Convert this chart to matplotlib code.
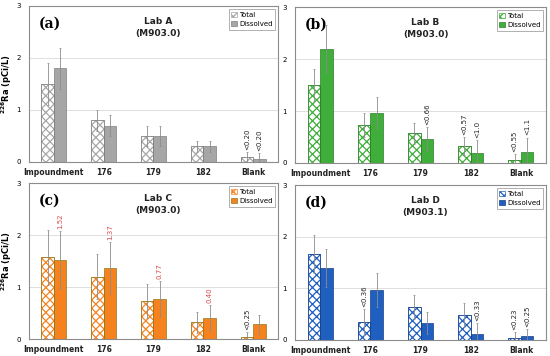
import matplotlib.pyplot as plt
import numpy as np

# sampling sites
sites = ['Impoundment', '176', '179', '182', 'Blank']

# Lab A (M903.0)
a_total = [1.5, 0.8, 0.5, 0.3, 0.1]
a_total_err = [0.4, 0.2, 0.2, 0.1, 0.1]
a_diss = [1.8, 0.7, 0.5, 0.3, 0.05]
a_diss_err = [0.4, 0.2, 0.2, 0.1, 0.12]

# Lab B (M903.0)
b_total = [1.5, 0.73, 0.57, 0.33, 0.05]
b_total_err = [0.3, 0.23, 0.2, 0.17, 0.12]
b_diss = [2.2, 0.97, 0.46, 0.2, 0.22]
b_diss_err = [0.45, 0.3, 0.23, 0.25, 0.27]

# Lab C (M903.0)
c_total = [1.57, 1.2, 0.73, 0.32, 0.03]
c_total_err = [0.53, 0.43, 0.33, 0.2, 0.1]
c_diss = [1.52, 1.37, 0.77, 0.40, 0.28]
c_diss_err = [0.55, 0.5, 0.35, 0.25, 0.18]

# Lab D (M903.1)
d_total = [1.66, 0.35, 0.64, 0.48, 0.04]
d_total_err = [0.37, 0.25, 0.23, 0.23, 0.12]
d_diss = [1.40, 0.97, 0.33, 0.12, 0.07]
d_diss_err = [0.37, 0.33, 0.22, 0.2, 0.14]

# detection-limit / value notes: (site index, series, text, red?)
a_notes = [(4, 't', '<0.20', False), (4, 'd', '<0.20', False)]
b_notes = [(2, 'd', '<0.66', False), (3, 't', '<0.57', False), (3, 'd', '<1.0', False),
           (4, 't', '<0.55', False), (4, 'd', '<1.1', False)]
c_notes = [(0, 'd', '1.52', True), (1, 'd', '1.37', True), (2, 'd', '0.77', True),
           (3, 'd', '0.40', True), (4, 't', '<0.25', False)]
d_notes = [(1, 't', '<0.36', False), (3, 'd', '<0.33', False),
           (4, 't', '<0.23', False), (4, 'd', '<0.25', False)]

panels = [
    ('(a)', 'Lab A\n(M903.0)', a_total, a_total_err, a_diss, a_diss_err, a_notes,
     '#a6a6a6', '#7f7f7f', [29, 278, 6, 162], True),
    ('(b)', 'Lab B\n(M903.0)', b_total, b_total_err, b_diss, b_diss_err, b_notes,
     '#3fae3a', '#2e7d2a', [295, 546, 7, 163], False),
    ('(c)', 'Lab C\n(M903.0)', c_total, c_total_err, c_diss, c_diss_err, c_notes,
     '#f5821f', '#8c7a1a', [29, 278, 183, 339], True),
    ('(d)', 'Lab D\n(M903.1)', d_total, d_total_err, d_diss, d_diss_err, d_notes,
     '#1f5fc0', '#1a3f8a', [295, 546, 185, 340], False),
]

W, H = 550, 356
fig = plt.figure(figsize=(5.5, 3.56), dpi=100)
plt.rcParams['hatch.linewidth'] = 0.9

x = np.arange(len(sites))
bw = 0.25

for tag, title, tot, tot_e, dis, dis_e, notes, col, edge, box, ylab in panels:
    l, r, t, b = box
    ax = fig.add_axes([l / W, 1 - b / H, (r - l) / W, (b - t) / H])
    ax.bar(x - bw / 2, tot, bw, color='white', edgecolor=col, hatch='xxxx', lw=0.5, zorder=2)
    ax.bar(x - bw / 2, tot, bw, color='none', edgecolor=edge, lw=0.5, zorder=3)
    ax.bar(x + bw / 2, dis, bw, color=col, edgecolor=edge, lw=0.5, zorder=2)
    ax.errorbar(x - bw / 2, tot, yerr=tot_e, fmt='none', ecolor='#8c8c8c', elinewidth=0.6,
                capsize=1, capthick=0.5, zorder=4)
    ax.errorbar(x + bw / 2, dis, yerr=dis_e, fmt='none', ecolor='#8c8c8c', elinewidth=0.6,
                capsize=1, capthick=0.5, zorder=4)
    for i, s, txt, red in notes:
        if s == 't':
            xx, top = x[i] - bw / 2, tot[i] + tot_e[i]
        else:
            xx, top = x[i] + bw / 2, dis[i] + dis_e[i]
        ax.text(xx, top + 0.04, txt, rotation=90, ha='center', va='bottom', fontsize=5,
                color='#e0484a' if red else '#222222', zorder=5)

    ax.set_xlim(-0.5, 4.5)
    ax.set_ylim(0, 3)
    ax.set_yticks([0, 1, 2, 3])
    ax.set_xticks(x)
    ax.set_xticklabels(sites, fontsize=5.5, fontweight='bold', color='#222222')
    ax.tick_params(axis='y', labelsize=5, length=0, pad=6)
    ax.tick_params(axis='x', length=0, pad=4)
    ax.grid(axis='y', color='#d9d9d9', lw=0.6, zorder=0)
    for sp in ax.spines.values():
        sp.set_color('#8c8c8c')
        sp.set_linewidth(0.8)

    ax.text(0.04, 0.93, tag, transform=ax.transAxes, fontsize=10, fontweight='bold',
            family='DejaVu Serif', va='top')
    ax.text(0.52, 0.93, title, transform=ax.transAxes, fontsize=6.5, fontweight='bold',
            ha='center', va='top', linespacing=1.5, color='#222222')

    h1 = plt.Rectangle((0, 0), 1, 1, facecolor='white', edgecolor=col, hatch='xxxx', lw=0.5)
    h2 = plt.Rectangle((0, 0), 1, 1, facecolor=col, edgecolor=edge, lw=0.5)
    leg = ax.legend([h1, h2], ['Total', 'Dissolved'], loc='upper right', fontsize=5,
                    frameon=True, fancybox=False, edgecolor='#8c8c8c', handlelength=0.8,
                    handleheight=0.8, handletextpad=0.3, borderpad=0.4, labelspacing=0.5,
                    borderaxespad=0.4)
    leg.get_frame().set_linewidth(0.6)

    if ylab:
        ax.set_ylabel(r'$\mathbf{^{226}}$Ra (pCi/L)', fontsize=6, fontweight='bold')
        ax.yaxis.set_label_coords(-0.06, 0.5)

plt.savefig('out.png', dpi=100)
plt.close()
